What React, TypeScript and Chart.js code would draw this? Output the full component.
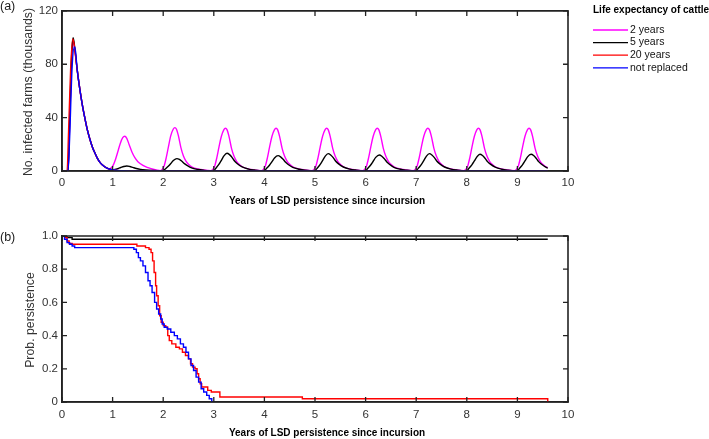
import React, { useEffect, useRef } from "react";
import { Chart, registerables } from "chart.js";

Chart.register(...registerables);

// ---------- DATA ----------
const seriesLabels = ["2 years", "5 years", "20 years", "not replaced"];
const seriesColors = ["#ff00ff", "#000000", "#ff0000", "#0000ff"];
const xTicksYears = [0, 1, 2, 3, 4, 5, 6, 7, 8, 9, 10];
const yTicksInfected = [0, 40, 80, 120];
const yTicksProb = [0, 0.2, 0.4, 0.6, 0.8, 1.0];

// (a) number of infected farms (thousands) vs years
const infected2y: [number, number][] = [
  [0, 0], [0.12, 0], [0.15, 33], [0.19, 82], [0.22, 98], [0.25, 92], [0.3, 76], [0.35, 62], [0.4, 50], [0.45, 40],
  [0.5, 31], [0.55, 24], [0.6, 18], [0.65, 13.5], [0.7, 9.5], [0.75, 6.5], [0.8, 4.5], [0.85, 3], [0.9, 2], [0.94, 1.6],
  [0.98, 2.6], [1.02, 5], [1.06, 9], [1.1, 14], [1.15, 20.5], [1.2, 25], [1.24, 26], [1.28, 24.5], [1.33, 19.5], [1.38, 14.5],
  [1.44, 10], [1.5, 7], [1.6, 4.2], [1.7, 2.5], [1.8, 1.3], [1.88, 0.6],
  [1.94, 0.3], [1.98, 1.2], [2.02, 4], [2.06, 10], [2.1, 17.5], [2.15, 26.5], [2.2, 31.5], [2.23, 32.5], [2.26, 31.5], [2.3, 26.5],
  [2.35, 17.5], [2.4, 11.2], [2.45, 7.4], [2.5, 5], [2.57, 3], [2.7, 1.4], [2.8, 0.8], [2.88, 0.45],
  [2.94, 0.3], [2.98, 1.2], [3.02, 4], [3.06, 10], [3.1, 17.5], [3.15, 26], [3.2, 31], [3.23, 32], [3.26, 31], [3.3, 26],
  [3.35, 17], [3.4, 11], [3.45, 7.3], [3.5, 5], [3.57, 3], [3.7, 1.4], [3.8, 0.8], [3.88, 0.45],
  [3.94, 0.3], [3.98, 1.2], [4.02, 4], [4.06, 10], [4.1, 17.5], [4.15, 26], [4.2, 31], [4.23, 32], [4.26, 31], [4.3, 26],
  [4.35, 17], [4.4, 11], [4.45, 7.3], [4.5, 5], [4.57, 3], [4.7, 1.4], [4.8, 0.8], [4.88, 0.45],
  [4.94, 0.3], [4.98, 1.2], [5.02, 4], [5.06, 10], [5.1, 17.5], [5.15, 26], [5.2, 31], [5.23, 32], [5.26, 31], [5.3, 26],
  [5.35, 17], [5.4, 11], [5.45, 7.3], [5.5, 5], [5.57, 3], [5.7, 1.4], [5.8, 0.8], [5.88, 0.45],
  [5.94, 0.3], [5.98, 1.2], [6.02, 4], [6.06, 10], [6.1, 17.5], [6.15, 26], [6.2, 31], [6.23, 32], [6.26, 31], [6.3, 26],
  [6.35, 17], [6.4, 11], [6.45, 7.3], [6.5, 5], [6.57, 3], [6.7, 1.4], [6.8, 0.8], [6.88, 0.45],
  [6.94, 0.3], [6.98, 1.2], [7.02, 4], [7.06, 10], [7.1, 17.5], [7.15, 26], [7.2, 31], [7.23, 32], [7.26, 31], [7.3, 26],
  [7.35, 17], [7.4, 11], [7.45, 7.3], [7.5, 5], [7.57, 3], [7.7, 1.4], [7.8, 0.8], [7.88, 0.45],
  [7.94, 0.3], [7.98, 1.2], [8.02, 4], [8.06, 10], [8.1, 17.5], [8.15, 26], [8.2, 31], [8.23, 32], [8.26, 31], [8.3, 26],
  [8.35, 17], [8.4, 11], [8.45, 7.3], [8.5, 5], [8.57, 3], [8.7, 1.4], [8.8, 0.8], [8.88, 0.45],
  [8.94, 0.3], [8.98, 1.2], [9.02, 4], [9.06, 10], [9.1, 17.5], [9.15, 26], [9.2, 31], [9.23, 32], [9.26, 31], [9.3, 26],
  [9.35, 17], [9.4, 11], [9.45, 7.3], [9.5, 5], [9.57, 3], [9.6, 2.6],
];

const infected5y: [number, number][] = [
  [0, 0], [0.12, 0], [0.15, 36], [0.19, 86], [0.22, 100], [0.25, 93], [0.3, 76], [0.35, 62], [0.4, 50], [0.45, 40],
  [0.5, 31], [0.55, 24], [0.6, 18], [0.65, 13.5], [0.7, 9.5], [0.75, 6.5], [0.8, 4.5], [0.85, 3], [0.9, 2], [0.95, 1.3],
  [1.0, 0.9], [1.05, 1.2], [1.1, 1.8], [1.16, 2.6], [1.22, 3.4], [1.28, 3.8], [1.34, 3.4], [1.4, 2.7], [1.47, 1.9], [1.55, 1.2],
  [1.65, 0.7], [1.8, 0.35], [1.95, 0.2],
  [2.0, 0.3], [2.04, 1.5], [2.1, 3.5], [2.15, 5.6], [2.2, 7.8], [2.27, 9.3], [2.32, 8.7], [2.37, 7.3], [2.42, 5.5], [2.47, 4.2],
  [2.56, 2.3], [2.69, 1.1], [2.8, 0.55], [2.9, 0.25],
  [3.0, 0.3], [3.04, 2], [3.1, 4.9], [3.15, 8], [3.2, 11.3], [3.26, 13.3], [3.31, 12.3], [3.36, 10.2], [3.41, 7.5], [3.46, 5.6],
  [3.56, 3], [3.69, 1.4], [3.8, 0.7], [3.9, 0.3],
  [4.0, 0.3], [4.04, 1.8], [4.1, 4.3], [4.15, 7], [4.2, 9.8], [4.27, 11.5], [4.32, 10.6], [4.37, 8.8], [4.42, 6.5], [4.47, 4.9],
  [4.56, 2.7], [4.69, 1.3], [4.8, 0.6], [4.9, 0.3],
  [5.0, 0.3], [5.04, 2], [5.1, 4.8], [5.15, 7.8], [5.2, 11], [5.26, 13], [5.31, 12], [5.36, 10], [5.41, 7.3], [5.46, 5.5],
  [5.56, 3], [5.69, 1.4], [5.8, 0.7], [5.9, 0.3],
  [6.0, 0.3], [6.04, 1.9], [6.1, 4.5], [6.15, 7.3], [6.2, 10.2], [6.27, 12], [6.32, 11.1], [6.37, 9.2], [6.42, 6.8], [6.47, 5.1],
  [6.56, 2.8], [6.69, 1.3], [6.8, 0.65], [6.9, 0.3],
  [7.0, 0.3], [7.04, 2], [7.1, 4.8], [7.15, 7.8], [7.2, 11], [7.26, 13], [7.31, 12], [7.36, 10], [7.41, 7.3], [7.46, 5.5],
  [7.56, 3], [7.69, 1.4], [7.8, 0.7], [7.9, 0.3],
  [8.0, 0.3], [8.04, 1.9], [8.1, 4.6], [8.15, 7.5], [8.2, 10.6], [8.26, 12.5], [8.31, 11.6], [8.36, 9.6], [8.41, 7], [8.46, 5.3],
  [8.56, 2.9], [8.69, 1.35], [8.8, 0.65], [8.9, 0.3],
  [9.0, 0.3], [9.04, 1.9], [9.1, 4.6], [9.15, 7.5], [9.2, 10.6], [9.27, 12.5], [9.32, 11.6], [9.37, 9.6], [9.42, 7], [9.47, 5.3],
  [9.56, 2.9], [9.6, 2.2],
];

const infected20y: [number, number][] = [
  [0, 0], [0.1, 0], [0.13, 30], [0.17, 76], [0.21, 99], [0.24, 95], [0.28, 82], [0.32, 70], [0.35, 62], [0.4, 50],
  [0.45, 40], [0.5, 31], [0.55, 24], [0.6, 18], [0.65, 13.5], [0.7, 9.5], [0.75, 6.5], [0.8, 4.5], [0.85, 3], [0.9, 2],
  [0.95, 1.3], [1.0, 0.9], [1.1, 0.45], [1.2, 0.2], [1.35, 0.05], [1.5, 0], [9.6, 0],
];

const infectedNR: [number, number][] = [
  [0, 0], [0.12, 0], [0.15, 24], [0.2, 78], [0.245, 93], [0.27, 89], [0.3, 76], [0.35, 62], [0.4, 50], [0.45, 40],
  [0.5, 31], [0.55, 24], [0.6, 18], [0.65, 13.5], [0.7, 9.5], [0.75, 6.5], [0.8, 4.5], [0.85, 3], [0.9, 2], [0.95, 1.3],
  [1.0, 0.9], [1.1, 0.45], [1.2, 0.2], [1.35, 0.05], [1.5, 0], [9.6, 0],
];

// (b) probability of persistence vs years
const persist2y: [number, number][] = [[0, 1], [9.6, 1]];
const persist5y: [number, number][] = [[0, 1], [0.1, 0.99], [0.2, 0.98], [9.6, 0.98]];
const persist20y: [number, number][] = [
  [0, 1], [0.06, 0.99], [0.1, 0.97], [0.14, 0.955], [0.2, 0.95], [1.48, 0.94], [1.65, 0.93], [1.72, 0.92], [1.76, 0.9],
  [1.79, 0.85], [1.82, 0.78], [1.85, 0.7], [1.87, 0.64], [1.9, 0.58], [1.93, 0.52], [1.96, 0.48], [2.0, 0.46], [2.05, 0.45],
  [2.09, 0.4], [2.12, 0.37], [2.17, 0.35], [2.25, 0.33], [2.32, 0.32], [2.38, 0.3], [2.44, 0.28], [2.5, 0.26], [2.54, 0.23],
  [2.58, 0.21], [2.63, 0.2], [2.67, 0.17], [2.7, 0.14], [2.73, 0.11], [2.76, 0.09], [2.88, 0.07], [2.95, 0.06], [3.12, 0.03],
  [4.75, 0.02], [9.6, 0],
];
const persistNR: [number, number][] = [
  [0, 1], [0.05, 0.98], [0.1, 0.96], [0.15, 0.95], [0.2, 0.94], [0.25, 0.93], [1.42, 0.92], [1.47, 0.9], [1.51, 0.87],
  [1.55, 0.85], [1.6, 0.82], [1.65, 0.78], [1.7, 0.73], [1.74, 0.7], [1.78, 0.66], [1.83, 0.6], [1.87, 0.56], [1.91, 0.53],
  [1.95, 0.5], [1.98, 0.47], [2.02, 0.45], [2.08, 0.44], [2.15, 0.42], [2.22, 0.4], [2.28, 0.38], [2.34, 0.35], [2.4, 0.33],
  [2.45, 0.3], [2.5, 0.26], [2.55, 0.22], [2.6, 0.19], [2.65, 0.15], [2.7, 0.12], [2.75, 0.08], [2.8, 0.06], [2.86, 0.04],
  [2.91, 0.02], [2.96, 0],
];

// ---------- STYLE ----------
const FONT = "'Liberation Sans', Arial, Helvetica, sans-serif";
const AXIS = "#222222";
const TEXT = "#333333";

const boxPlugin = {
  id: "matlabBox",
  afterDraw(chart: any, _args: any, opts: any) {
    const ctx: CanvasRenderingContext2D = chart.ctx;
    const a = chart.chartArea;
    const x = chart.scales.x, y = chart.scales.y;
    const L = a.left, R = a.right, T = a.top, B = a.bottom;
    ctx.save();
    ctx.globalAlpha = 1;
    ctx.globalCompositeOperation = "source-over";
    ctx.setLineDash([]);
    ctx.lineCap = "butt";
    ctx.lineJoin = "miter";

    // texts
    ctx.fillStyle = "#1a1a1a";
    ctx.textBaseline = "middle";
    ctx.textAlign = "left";
    ctx.font = `12.5px ${FONT}`;
    ctx.fillText(opts.panel, 0, opts.panelY);

    ctx.fillStyle = "#000";
    ctx.font = `bold 10px ${FONT}`;
    ctx.textAlign = "center";
    ctx.fillText(opts.xTitle, (L + R) / 2 + 12, opts.xTitleY);

    ctx.fillStyle = TEXT;
    ctx.font = `12.3px ${FONT}`;
    ctx.save();
    ctx.translate(opts.yTitleX, (T + B) / 2 + 1);
    ctx.rotate(-Math.PI / 2);
    ctx.fillText(opts.yTitle, 0, 0);
    ctx.restore();

    if (opts.legend) {
      ctx.textAlign = "left";
      ctx.fillStyle = "#000";
      ctx.font = `bold 10px ${FONT}`;
      ctx.fillText(opts.legendTitle, 593, 10);
      ctx.font = `10.5px ${FONT}`;
      chart.data.datasets.forEach((ds: any, i: number) => {
        const yy = 30 + i * 12.6;
        ctx.strokeStyle = ds.borderColor;
        ctx.lineWidth = 1.3;
        ctx.beginPath();
        ctx.moveTo(593, yy);
        ctx.lineTo(628, yy);
        ctx.stroke();
        ctx.fillStyle = "#111";
        ctx.fillText(ds.label, 630, yy);
      });
    }

    // frame and inward ticks
    ctx.strokeStyle = AXIS;
    ctx.lineWidth = 1.6;
    ctx.beginPath();
    ctx.moveTo(L, T);
    ctx.lineTo(R, T);
    ctx.lineTo(R, B);
    ctx.lineTo(L, B);
    ctx.closePath();
    ctx.stroke();
    const tl = 5;
    ctx.lineWidth = 1.3;
    ctx.beginPath();
    for (const v of xTicksYears) {
      const px = x.getPixelForValue(v);
      ctx.moveTo(px, B);
      ctx.lineTo(px, B - tl);
      ctx.moveTo(px, T);
      ctx.lineTo(px, T + tl);
    }
    for (const t of y.ticks) {
      const py = y.getPixelForValue(t.value);
      ctx.moveTo(L, py);
      ctx.lineTo(L + tl, py);
      ctx.moveTo(R, py);
      ctx.lineTo(R - tl, py);
    }
    ctx.stroke();
    ctx.restore();
  },
};

function makeDatasets(series: [number, number][][], smooth: boolean) {
  return series.map((pts, i) => ({
    label: seriesLabels[i],
    data: pts.map(([x, y]) => ({ x, y })),
    borderColor: seriesColors[i],
    backgroundColor: seriesColors[i],
    borderWidth: 1.4,
    pointRadius: 0,
    fill: false,
    order: 4 - i,
    cubicInterpolationMode: smooth ? ("monotone" as const) : ("default" as const),
    stepped: smooth ? false : (true as any),
    clip: i === 0 && !smooth ? { left: 0, right: 0, top: -2, bottom: 0 } : undefined,
  }));
}

function makeConfig(opts: {
  series: [number, number][][];
  smooth: boolean;
  yMax: number;
  yTicks: number[];
  fmt: (v: number) => string;
  padTop: number;
  padBottom: number;
  xLabelPad: number;
  text: any;
}): any {
  return {
    type: "line",
    data: { datasets: makeDatasets(opts.series, opts.smooth) },
    plugins: [boxPlugin],
    options: {
      animation: false,
      responsive: false,
      devicePixelRatio: 1,
      events: [],
      layout: { padding: { left: 0, right: 141, top: opts.padTop, bottom: opts.padBottom } },
      plugins: { legend: { display: false }, tooltip: { enabled: false }, matlabBox: opts.text },
      scales: {
        x: {
          type: "linear",
          min: 0,
          max: 10,
          afterFit: (s: any) => { s.height = 30; },
          afterBuildTicks: (s: any) => { s.ticks = xTicksYears.map((v) => ({ value: v })); },
          grid: { display: false, drawTicks: false },
          border: { display: true, color: AXIS, width: 1.6 },
          ticks: {
            padding: opts.xLabelPad,
            color: TEXT,
            font: { family: FONT, size: 11.5 },
            maxRotation: 0,
            autoSkip: false,
            callback: (v: any) => String(v),
          },
        },
        y: {
          type: "linear",
          min: 0,
          max: opts.yMax,
          afterFit: (s: any) => { s.width = 62; },
          afterBuildTicks: (s: any) => { s.ticks = opts.yTicks.map((v) => ({ value: v })); },
          grid: { display: false, drawTicks: false },
          border: { display: true, color: AXIS, width: 1.6 },
          ticks: {
            padding: 4,
            color: TEXT,
            font: { family: FONT, size: 11.5 },
            autoSkip: false,
            callback: (v: any) => opts.fmt(Number(v)),
          },
        },
      },
    },
  };
}

export default function App() {
  const topRef = useRef<HTMLCanvasElement>(null);
  const botRef = useRef<HTMLCanvasElement>(null);

  useEffect(() => {
    document.body.style.margin = "0";
    const top = new Chart(
      topRef.current as HTMLCanvasElement,
      makeConfig({
        series: [infected2y, infected5y, infected20y, infectedNR],
        smooth: true,
        yMax: 120,
        yTicks: yTicksInfected,
        fmt: (v) => String(v),
        padTop: 5,
        padBottom: 439 - 171 - 30,
        xLabelPad: 5,
        text: {
          panel: "(a)",
          panelY: 7,
          xTitle: "Years of LSD persistence since incursion",
          xTitleY: 201,
          yTitle: "No. infected farms (thousands)",
          yTitleX: 29,
          legend: true,
          legendTitle: "Life expectancy of cattle",
        },
      })
    );
    const bot = new Chart(
      botRef.current as HTMLCanvasElement,
      makeConfig({
        series: [persist2y, persist5y, persist20y, persistNR],
        smooth: false,
        yMax: 1,
        yTicks: yTicksProb,
        fmt: (v) => (v === 0 ? "0" : v.toFixed(1)),
        padTop: 236,
        padBottom: 439 - 402 - 30,
        xLabelPad: 6,
        text: {
          panel: "(b)",
          panelY: 237.5,
          xTitle: "Years of LSD persistence since incursion",
          xTitleY: 433,
          yTitle: "Prob. persistence",
          yTitleX: 31,
          legend: false,
        },
      })
    );
    return () => {
      top.destroy();
      bot.destroy();
    };
  }, []);

  return (
    <div style={{ position: "fixed", left: 0, top: 0, width: 709, height: 439, background: "#fff" }}>
      <canvas ref={topRef} width={709} height={439} style={{ position: "absolute", left: 0, top: 0 }} />
      <canvas ref={botRef} width={709} height={439} style={{ position: "absolute", left: 0, top: 0 }} />
    </div>
  );
}
